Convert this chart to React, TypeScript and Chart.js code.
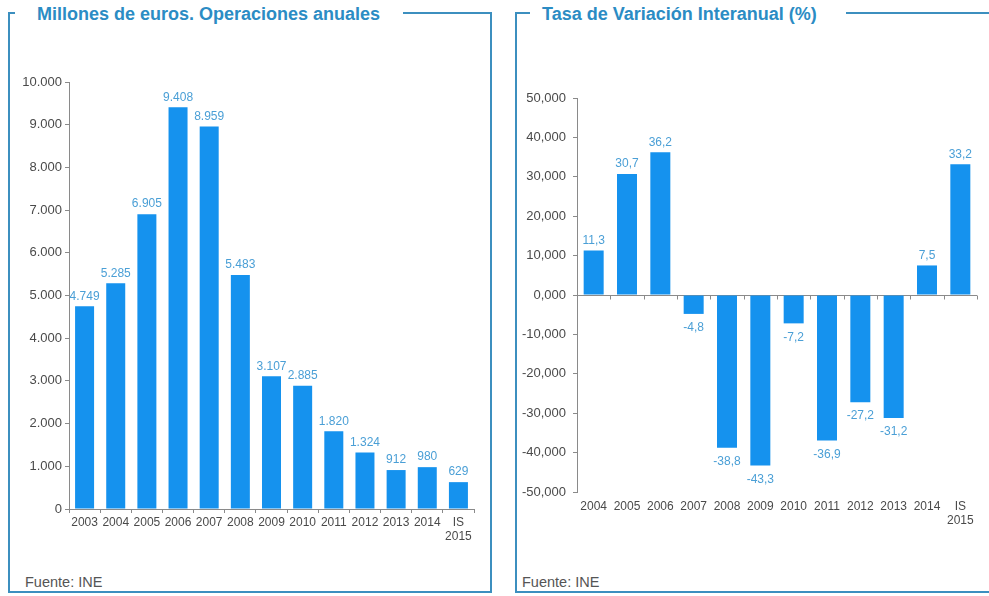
import React, { useEffect, useRef } from "react";
import { Chart, registerables } from "chart.js";

Chart.register(...registerables);

const yearsLeft: (string | string[])[] = ["2003", "2004", "2005", "2006", "2007", "2008", "2009", "2010", "2011", "2012", "2013", "2014", ["IS", "2015"]];
const opsValues = [4749, 5285, 6905, 9408, 8959, 5483, 3107, 2885, 1820, 1324, 912, 980, 629];

const yearsRight: (string | string[])[] = ["2004", "2005", "2006", "2007", "2008", "2009", "2010", "2011", "2012", "2013", "2014", ["IS", "2015"]];
const rateValues = [11.3, 30.7, 36.2, -4.8, -38.8, -43.3, -7.2, -36.9, -27.2, -31.2, 7.5, 33.2];

const leftTitle = "Millones de euros. Operaciones anuales";
const rightTitle = "Tasa de Variación Interanual (%)";
const sourceText = "Fuente: INE";

const BAR = "#1592ee";
const LABEL = "#4a9fd6";
const AXIS = "#8a8a8a";
const TICKTXT = "#4a4a4a";
const FRAME = "#3c8fbf";
const FONT = "'Liberation Sans', Arial, sans-serif";

const thousands = (v: number) => String(v).replace(/\B(?=(\d{3})+(?!\d))/g, ".");
const comma1 = (v: number) => v.toFixed(1).replace(".", ",");
const comma3 = (v: number) => v.toFixed(3).replace(".", ",");

function labelPlugin(fmt: (v: number) => string) {
  return {
    id: "valueLabels",
    afterDatasetsDraw(chart: any) {
      const ctx = chart.ctx;
      const meta = chart.getDatasetMeta(0);
      const data = chart.data.datasets[0].data as number[];
      ctx.save();
      ctx.font = `12px ${FONT}`;
      ctx.fillStyle = LABEL;
      ctx.textAlign = "center";
      meta.data.forEach((el: any, i: number) => {
        const v = data[i];
        if (v >= 0) {
          ctx.textBaseline = "bottom";
          ctx.fillText(fmt(v), el.x, el.y - 4);
        } else {
          ctx.textBaseline = "top";
          ctx.fillText(fmt(v), el.x, el.y + 8);
        }
      });
      ctx.restore();
    },
  };
}

const zeroLinePlugin = {
  id: "zeroLine",
  beforeDatasetsDraw(chart: any) {
    const { ctx, chartArea, scales } = chart;
    const y = Math.round(scales.y.getPixelForValue(0)) + 0.5;
    const xs = scales.x;
    ctx.save();
    ctx.strokeStyle = AXIS;
    ctx.lineWidth = 1;
    ctx.beginPath();
    ctx.moveTo(chartArea.left, y);
    ctx.lineTo(chartArea.right, y);
    const n = chart.data.labels.length;
    for (let i = 1; i <= n; i++) {
      const x = Math.round(i < n ? (xs.getPixelForValue(i - 1) + xs.getPixelForValue(i)) / 2 : chartArea.right) + 0.5;
      ctx.moveTo(x, y);
      ctx.lineTo(x, y + 4);
    }
    ctx.stroke();
    ctx.restore();
  },
};

function LeftChart() {
  const ref = useRef<HTMLCanvasElement>(null);
  useEffect(() => {
    const chart = new Chart(ref.current!, {
      type: "bar",
      data: {
        labels: yearsLeft,
        datasets: [{ data: opsValues, backgroundColor: BAR, barPercentage: 0.61, categoryPercentage: 1 }],
      },
      options: {
        animation: false,
        responsive: false,
        layout: { padding: { left: 0, right: 16, top: 42, bottom: 21 } },
        plugins: { legend: { display: false }, tooltip: { enabled: false } },
        scales: {
          x: {
            border: { display: true, color: AXIS },
            grid: { display: true, drawOnChartArea: false, tickLength: 4, color: AXIS, offset: true },
            ticks: { color: TICKTXT, font: { family: FONT, size: 12 }, maxRotation: 0, autoSkip: false, padding: 2 },
            afterFit: (s: any) => { s.height = 40; },
          },
          y: {
            min: 0,
            max: 10000,
            border: { display: true, color: AXIS },
            grid: { display: true, drawOnChartArea: false, tickLength: 4, color: AXIS },
            ticks: { stepSize: 1000, color: TICKTXT, font: { family: FONT, size: 13 }, padding: 3, callback: (v: any) => thousands(Number(v)) },
            afterFit: (s: any) => { s.width = 59; },
          },
        },
      },
      plugins: [labelPlugin(thousands)],
    } as any);
    return () => chart.destroy();
  }, []);
  return <canvas ref={ref} width={480} height={530} style={{ position: "absolute", left: 10, top: 40, width: 480, height: 530 }} />;
}

function RightChart() {
  const ref = useRef<HTMLCanvasElement>(null);
  useEffect(() => {
    const chart = new Chart(ref.current!, {
      type: "bar",
      data: {
        labels: yearsRight,
        datasets: [{ data: rateValues, backgroundColor: BAR, barPercentage: 0.6, categoryPercentage: 1 }],
      },
      options: {
        animation: false,
        responsive: false,
        layout: { padding: { left: 0, right: 12, top: 58, bottom: 38 } },
        plugins: { legend: { display: false }, tooltip: { enabled: false } },
        scales: {
          x: {
            border: { display: false },
            grid: { display: false, drawTicks: false },
            ticks: { color: TICKTXT, font: { family: FONT, size: 12 }, maxRotation: 0, autoSkip: false, padding: 7 },
            afterFit: (s: any) => { s.height = 40; },
          },
          y: {
            min: -50,
            max: 50,
            border: { display: true, color: AXIS },
            grid: { display: true, drawOnChartArea: false, tickLength: 4, color: AXIS },
            ticks: { stepSize: 10, color: TICKTXT, font: { family: FONT, size: 13 }, padding: 7, callback: (v: any) => comma3(Number(v)) },
            afterFit: (s: any) => { s.width = 57; },
          },
        },
      },
      plugins: [zeroLinePlugin, labelPlugin(comma1)],
    } as any);
    return () => chart.destroy();
  }, []);
  return <canvas ref={ref} width={469} height={530} style={{ position: "absolute", left: 520, top: 40, width: 469, height: 530 }} />;
}

const titleStyle: React.CSSProperties = {
  position: "absolute",
  top: 3,
  height: 22,
  lineHeight: "22px",
  background: "#fff",
  color: "#2b8cc4",
  fontFamily: FONT,
  fontWeight: "bold",
  fontSize: 18,
  whiteSpace: "nowrap",
  boxSizing: "border-box",
};

const sourceStyle: React.CSSProperties = {
  position: "absolute",
  top: 573,
  fontFamily: FONT,
  fontSize: 14.5,
  color: "#555",
  lineHeight: "18px",
};

export default function App() {
  return (
    <div style={{ position: "fixed", left: 0, top: 0, width: 989, height: 596, overflow: "hidden", background: "#fff" }}>
      <div style={{ position: "absolute", left: 8, top: 12, width: 484, height: 581, border: `2px solid ${FRAME}`, boxSizing: "border-box" }} />
      <div style={{ ...titleStyle, left: 15, width: 388, paddingLeft: 22 }}>{leftTitle}</div>
      <div style={{ ...sourceStyle, left: 25 }}>{sourceText}</div>
      <LeftChart />

      <div style={{ position: "absolute", left: 515, top: 12, width: 500, height: 581, border: `2px solid ${FRAME}`, boxSizing: "border-box" }} />
      <div style={{ ...titleStyle, left: 530, width: 316, paddingLeft: 12 }}>{rightTitle}</div>
      <div style={{ ...sourceStyle, left: 522 }}>{sourceText}</div>
      <RightChart />
    </div>
  );
}
